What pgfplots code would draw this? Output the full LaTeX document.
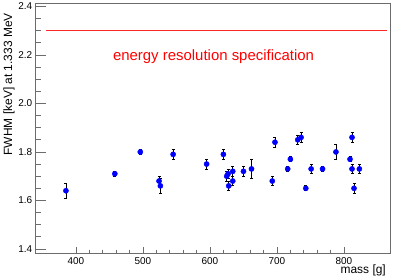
\documentclass[border=0pt]{standalone}
\usepackage{pgfplots}
\pgfplotsset{compat=1.18}
\usepackage{fontspec}
\setmainfont{Liberation Sans}
\pgfplotsset{common/.style={
  scale only axis,
  width=354.3bp, height=250bp,
  xmin=339.9, xmax=868.7,
  ymin=1.382, ymax=2.413,
  axis line style={draw=gray!85!black, line width=0.9bp},
  tick style={draw=gray!85!black, line width=0.8bp},
  tick align=inside,
  /pgf/number format/assume math mode=true,
  ticklabel style={font=\fontsize{10}{12}\selectfont},
}}
\begin{document}
\begin{tikzpicture}
\begin{axis}[
  common,
  xtick={400,500,600,700,800},
  ytick=\empty,
  minor x tick num=4,
  xtick pos=bottom,
  major tick length=6bp, minor tick length=3bp,
  xticklabel style={yshift=-0.5bp},
  clip=false,
]
\addplot[only marks, mark=*, mark size=2.6bp, mark options={draw=blue, fill=blue},
  error bars/.cd, y dir=both, y explicit,
  error bar style={black, line width=0.8bp},
  error mark options={rotate=90, black, mark size=1.5bp, line width=0.8bp}]
  table[x index=0, y index=1, y error index=2] {
385 1.64 0.03
458 1.71 0.01
496 1.80 0.01
524 1.68 0.02
526 1.66 0.03
545 1.79 0.02
595 1.75 0.02
620 1.79 0.02
625 1.70 0.02
627 1.71 0.02
628 1.66 0.02
634 1.72 0.02
634 1.68 0.02
650 1.72 0.02
662 1.73 0.04
693 1.68 0.02
697 1.84 0.02
716 1.73 0.01
720 1.77 0.01
731 1.85 0.02
736 1.86 0.02
743 1.65 0.01
751 1.73 0.02
768 1.73 0.01
788 1.80 0.03
809 1.77 0.01
812 1.86 0.02
812 1.73 0.02
815 1.65 0.02
823 1.73 0.02
};
\addplot[red!85!white, line width=1.3bp] coordinates {(356,2.3) (863.7,2.3)};
\node[anchor=base west, inner sep=0, text=red, font=\fontsize{15}{18}\selectfont] at (axis cs:455,2.176) {energy resolution specification};
\end{axis}
\begin{axis}[
  common,
  hide x axis,
  ytick={1.4,1.6,1.8,2.0,2.2,2.4},
  minor y tick num=3,
  ytick pos=left,
  major tick length=10bp, minor tick length=5bp,
  yticklabel style={/pgf/number format/.cd, fixed, fixed zerofill, precision=1},
]
\end{axis}
\node[anchor=north east, rotate=90, inner sep=0, font=\fontsize{12}{14}\selectfont] at (-32.4bp,240.3bp) {FWHM [keV] at 1.333 MeV};
\node[anchor=north east, inner sep=0, font=\fontsize{12}{14}\selectfont] at (350.3bp,-11.8bp) {mass [g]};
\pgfresetboundingbox
\useasboundingbox (-35.7bp,-25.7bp) rectangle (359.3bp,253.3bp);
\end{tikzpicture}
\end{document}
